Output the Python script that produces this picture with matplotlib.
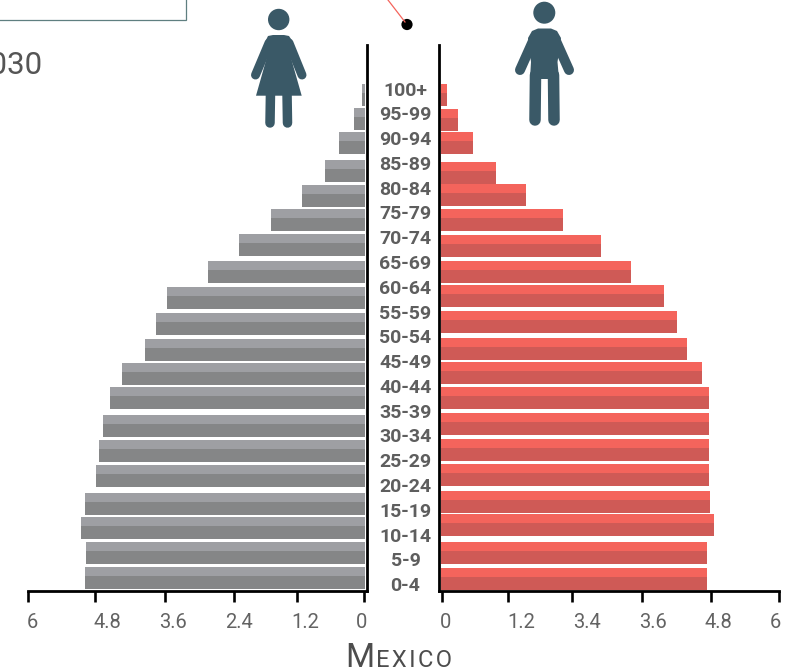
import numpy as np
import matplotlib.pyplot as plt
from matplotlib.patches import Circle, Polygon, Rectangle

plt.rcParams['font.family'] = ['Roboto', 'DejaVu Sans']

age_groups = ['100+', '95-99', '90-94', '85-89', '80-84', '75-79', '70-74',
              '65-69', '60-64', '55-59', '50-54', '45-49', '40-44', '35-39',
              '30-34', '25-29', '20-24', '15-19', '10-14', '5-9', '0-4']

# percent of population, oldest row first
women = [0.05, 0.20, 0.46, 0.71, 1.12, 1.67, 2.24, 2.80, 3.52, 3.72,
         3.92, 4.33, 4.54, 4.66, 4.74, 4.79, 4.98, 5.06, 4.97, 4.98]
men = [0.11, 0.30, 0.57, 0.98, 1.52, 2.18, 2.86, 3.38, 3.98, 4.20,
       4.38, 4.66, 4.77, 4.77, 4.77, 4.77, 4.79, 4.86, 4.75, 4.75]

women_ticks = [6, 4.8, 3.56, 2.33, 1.21, 0.02]
men_ticks = [0.01, 1.2, 2.34, 3.59, 4.82, 6.02]
women_tick_labels = ['6', '4.8', '3.6', '2.4', '1.2', '0']
men_tick_labels = ['0', '1.2', '3.4', '3.6', '4.8', '6']

W, H = 801, 672
SLATE = '#3a5967'
TICK_GREY = '#636363'

# row tops in pixels, the bars are hand placed and not evenly spaced
women_rows = [84, 108, 132, 160, 185, 209, 234, 261, 287, 313,
              339, 363, 387, 415, 440, 465, 493, 517, 542, 567]
men_rows = [84, 109, 132, 162, 184, 209, 235, 261, 285, 311,
            338, 362, 387, 413, 439, 464, 491, 514, 542, 568]
BAR_H = 21.5
BAND_H = 9.3

fig = plt.figure(figsize=(W / 100, H / 100), dpi=100)


def panel(left, right):
    ax = fig.add_axes([left / W, 1 - 590.5 / H, (right - left) / W, (590.5 - 45) / H])
    ax.set_ylim(590.5, 45)
    ax.set_yticks([])
    ax.patch.set_alpha(0)
    for side in ['top', 'left', 'right', 'bottom']:
        ax.spines[side].set_visible(False)
    ax.spines['bottom'].set_visible(True)
    ax.spines['bottom'].set_linewidth(2)
    ax.tick_params(axis='x', length=8, width=1.9, labelbottom=False)
    return ax


def pyramid_bars(ax, rows, values, light, dark):
    rows = np.array(rows)
    ax.barh(rows, values, height=BAR_H, align='edge', color=dark, linewidth=0)
    ax.barh(rows, values, height=BAND_H, align='edge', color=light, linewidth=0)


ax_w = panel(28, 367)
ax_w.set_xlim(6, -0.035)
ax_w.spines['right'].set_visible(True)
ax_w.spines['right'].set_linewidth(2)
ax_w.set_xticks(women_ticks)
pyramid_bars(ax_w, women_rows, women, '#9e9fa3', '#858687')

ax_m = panel(439, 779)
ax_m.set_xlim(-0.036, 6.025)
ax_m.spines['left'].set_visible(True)
ax_m.spines['left'].set_linewidth(2)
ax_m.set_xticks(men_ticks)
pyramid_bars(ax_m, men_rows, men, '#f4645c', '#cf5a56')

# overlay in pixel coordinates for labels, icons and the callout
ov = fig.add_axes([0, 0, 1, 1], zorder=5)
ov.set_xlim(0, W)
ov.set_ylim(H, 0)
ov.axis('off')

for i, age in enumerate(age_groups):
    ov.text(405.5, 88.5 + i * 24.78, age, ha='center', va='center_baseline',
            fontsize=14, fontweight='bold', color='#5e5e5e')

women_label_x = [32, 107, 173, 239, 305.7, 361.7]
men_label_x = [445.7, 521.7, 586.7, 653, 718, 775.7]
for x, s in zip(women_label_x, women_tick_labels):
    ov.text(x, 620, s, ha='center', va='center_baseline', fontsize=14.5, color=TICK_GREY)
for x, s in zip(men_label_x, men_tick_labels):
    ov.text(x, 620, s, ha='center', va='center_baseline', fontsize=14.5, color=TICK_GREY)

# small caps country name
ov.text(345, 667, 'M', ha='left', va='baseline', fontsize=24, color='#4d4d4d')
ov.text(376, 667, 'E\u200aX\u200aI\u200aC\u200aO', ha='left', va='baseline',
        fontsize=17, color='#4d4d4d')

ov.text(42.5, 73.5, '2030', ha='right', va='baseline', fontsize=22.5, color='#555555')

# header box, runs off the top of the canvas
ov.add_patch(Rectangle((-5, -10), 191, 30, fill=False, edgecolor='#5f7f80', linewidth=0.9))

# callout leader and dot
ov.plot([388, 405], [0, 22], color='#f4645c', linewidth=0.9)
ov.add_patch(Circle((407, 24.5), 5.6, color='black', linewidth=0))


def limb(x, y, width):
    ov.plot(x, y, color=SLATE, linewidth=width * 0.72, solid_capstyle='round')


# woman icon
ov.add_patch(Circle((278.7, 19.5), 10.7, color=SLATE, linewidth=0))
ov.add_patch(Polygon([(265, 42), (268, 36), (273, 35), (284, 35), (289, 36), (293, 42),
                      (291, 58), (301.7, 95.7), (256, 95.7), (266.7, 58)],
                     closed=True, color=SLATE, linewidth=0))
limb([269, 255.5], [43, 75], 9)
limb([289, 302], [43, 75], 9)
limb([270.5, 270], [92, 123], 9.5)
limb([287, 287.5], [92, 123], 9.5)

# man icon
ov.add_patch(Circle((544.3, 12.7), 11, color=SLATE, linewidth=0))
ov.add_patch(Polygon([(528, 38), (532, 31), (538, 28.5), (551, 28.5), (557, 31), (561, 38),
                      (557.5, 62), (559, 79), (530, 79), (531, 62)],
                     closed=True, color=SLATE, linewidth=0))
limb([533, 520], [41, 70], 10)
limb([556, 569], [41, 70], 10)
limb([535.5, 535], [75, 120], 11.5)
limb([553.5, 554], [75, 120], 11.5)

fig.savefig('out.png', dpi=100)
